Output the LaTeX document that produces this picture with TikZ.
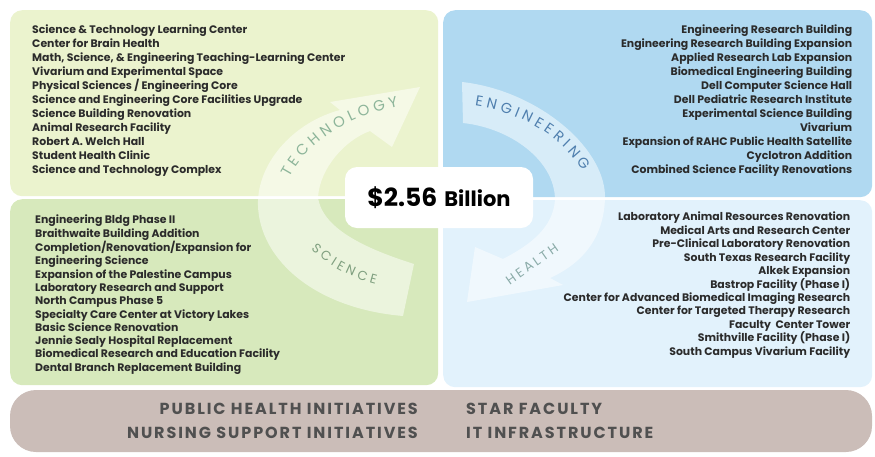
\documentclass[tikz,border=0pt]{standalone}
\usepackage{fontspec}
\setmainfont{Poppins}
\newfontfamily\arrowfont[LetterSpace=22]{Poppins}
\newfontfamily\bandfont{Poppins}
\newfontfamily\barfont[LetterSpace=12]{Poppins}
\usetikzlibrary{positioning,decorations.text}

\definecolor{techgreen}{HTML}{EBF3CE}
\definecolor{scigreen}{HTML}{D7E9BC}
\definecolor{engblue}{HTML}{B0D9F1}
\definecolor{healthblue}{HTML}{E2F2FC}
\definecolor{barmauve}{HTML}{CBBDB8}
\definecolor{listgray}{HTML}{2B2B2B}
\definecolor{bargray}{HTML}{505050}
\definecolor{techtext}{HTML}{8DB59A}
\definecolor{scitext}{HTML}{7F9F7F}
\definecolor{engtext}{HTML}{4F7FAE}
\definecolor{healthtext}{HTML}{8AABA8}

\tikzset{
    panel/.style = {
        rectangle,
        rounded corners=12pt,
        anchor=north west,
        minimum width=428pt,
        minimum height=186pt,
        inner sep=0pt
    },
    listtext/.style = {
        font=\bfseries\fontsize{10.9}{13.94}\selectfont,
        text=listgray,
        inner sep=0pt
    },
    band/.style = {
        fill=white,
        fill opacity=0.5
    },
    arrowlabel/.style = {
        font=\arrowfont\fontsize{13}{13}\selectfont,
        inner sep=0pt
    },
    bartext/.style = {
        font=\barfont\bfseries\fontsize{16}{24}\selectfont,
        text=bargray,
        inner sep=0pt
    }
}

\begin{document}
\begin{tikzpicture}[x=1pt, y=-1pt]
    \useasboundingbox (0,0) rectangle (875,456);

    % the four fields
    \node [panel, fill=techgreen] (tech) at (10,10) {};
    \node [panel, fill=engblue, minimum width=429pt, minimum height=187pt] (eng) at (443,10) {};
    \node [panel, fill=scigreen] (sci) at (10,199) {};
    \node [panel, fill=healthblue, minimum width=429pt, minimum height=187pt] (health) at (443,200) {};

    % science -> technology
    \path [band] (403,316) -- (414,264)
        .. controls (370,250) and (322,230) .. (318,197)
        .. controls (320,168) and (345,140) .. (370,131)
        -- (392,147) -- (420,87) -- (330,102) -- (340,110)
        .. controls (295,122) and (260,160) .. (258,200)
        .. controls (256,255) and (310,308) .. cycle;
    % engineering -> health
    \path [band] (462,82)
        .. controls (535,90) and (603,145) .. (605,195)
        .. controls (605,235) and (585,262) .. (550,278)
        -- (563,285) -- (467,302) -- (475,247) -- (503,259)
        .. controls (530,245) and (553,228) .. (555,200)
        .. controls (555,160) and (510,128) .. (463,123) -- cycle;

    \path [decorate, decoration={text along path, text align=center, text color=techtext,
        text={|\bandfont\fontsize{15}{15}\selectfont|T E C H N O L O G Y}}]
        (282,194) .. controls (297,150) and (340,114) .. (416,103);
    \path [decorate, decoration={text along path, text align=center, text color=engtext,
        text={|\bandfont\fontsize{14.5}{14.5}\selectfont|E N G I N E E R I N G}}]
        (460,104) .. controls (510,108) and (563,130) .. (590,184);
    \path [decorate, decoration={text along path, text align=center, text color=scitext,
        text={|\bandfont\fontsize{13}{13}\selectfont|S C I E N C E}}]
        (298,236) .. controls (320,262) and (350,281) .. (394,288);
    \node [arrowlabel, text=healthtext, rotate=35] (healthlabel) at (532,264) {HEALTH};

    % total
    \node [rectangle, rounded corners=12pt, fill=white, minimum width=188pt, minimum height=61pt]
        (total) at (439,197.5)
        {\bfseries\fontsize{25}{25}\selectfont \$2.56\hspace{7pt}\fontsize{21}{21}\selectfont Billion};

    % project lists
    \node [listtext, align=left, anchor=north west] (techlist)
        at ([xshift=22pt, yshift=-15pt]tech.north west) {%
        Science \& Technology Learning Center\\
        Center for Brain Health\\
        Math, Science, \& Engineering Teaching-Learning Center\\
        Vivarium and Experimental Space\\
        Physical Sciences / Engineering Core\\
        Science and Engineering Core Facilities Upgrade\\
        Science Building Renovation\\
        Animal Research Facility\\
        Robert A. Welch Hall\\
        Student Health Clinic\\
        Science and Technology Complex};
    \node [listtext, align=right, anchor=north east] (englist)
        at ([xshift=-20pt, yshift=-15pt]eng.north east) {%
        Engineering Research Building\\
        Engineering Research Building Expansion\\
        Applied Research Lab Expansion\\
        Biomedical Engineering Building\\
        Dell Computer Science Hall\\
        Dell Pediatric Research Institute\\
        Experimental Science Building\\
        Vivarium\\
        Expansion of RAHC Public Health Satellite\\
        Cyclotron Addition\\
        Combined Science Facility Renovations};
    \node [listtext, align=left, anchor=north west, font=\bfseries\fontsize{10.9}{13.3}\selectfont] (scilist)
        at ([xshift=25pt, yshift=-16pt]sci.north west) {%
        Engineering Bldg Phase II\\
        Braithwaite Building Addition\\
        Completion/Renovation/Expansion for\\
        Engineering Science\\
        Expansion of the Palestine Campus\\
        Laboratory Research and Support\\
        North Campus Phase 5\\
        Specialty Care Center at Victory Lakes\\
        Basic Science Renovation\\
        Jennie Sealy Hospital Replacement\\
        Biomedical Research and Education Facility\\
        Dental Branch Replacement Building};
    \node [listtext, align=right, anchor=north east, font=\bfseries\fontsize{10.9}{13.43}\selectfont] (healthlist)
        at ([xshift=-22pt, yshift=-12pt]health.north east) {%
        Laboratory Animal Resources Renovation\\
        Medical Arts and Research Center\\
        Pre-Clinical Laboratory Renovation\\
        South Texas Research Facility\\
        Alkek Expansion\\
        Bastrop Facility (Phase I)\\
        Center for Advanced Biomedical Imaging Research\\
        Center for Targeted Therapy Research\\
        Faculty\ \ Center Tower\\
        Smithville Facility (Phase I)\\
        South Campus Vivarium Facility};

    % initiatives bar
    \node [rectangle, rounded corners=26pt, fill=barmauve, minimum width=862pt, minimum height=62pt, inner sep=0pt]
        (extras) at (441,421) {};
    \node [bartext, align=right, anchor=east] (initiatives)
        at ([xshift=-23pt]extras.center) {PUBLIC HEALTH INITIATIVES\\NURSING SUPPORT INITIATIVES};
    \node [bartext, align=left, anchor=west] (faculty)
        at ([xshift=25pt]extras.center) {STAR FACULTY\\IT INFRASTRUCTURE};
\end{tikzpicture}
\end{document}
